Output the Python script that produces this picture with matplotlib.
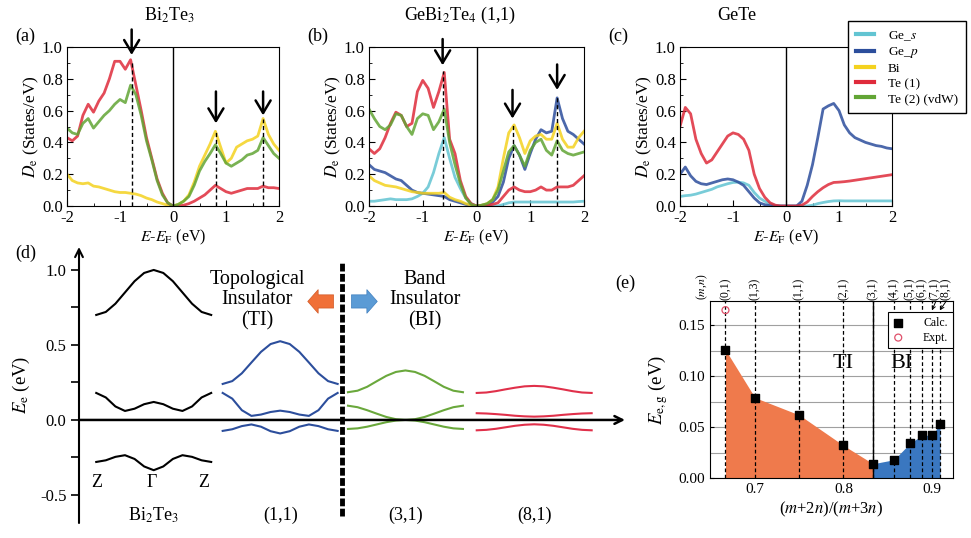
import numpy as np
import matplotlib
matplotlib.use('Agg')
import matplotlib.pyplot as plt
from matplotlib.lines import Line2D

plt.rcParams['font.family'] = 'serif'
plt.rcParams['font.serif'] = ['Liberation Serif', 'DejaVu Serif']
plt.rcParams['mathtext.fontset'] = 'stix'
plt.rcParams['axes.unicode_minus'] = False

# ---------------- data ----------------
# energy grid for the DOS panels (eV, E-E_F)
energy = np.round(np.linspace(-2, 2, 41), 2)

# (a) Bi2Te3
a_bi = [0.20, 0.16, 0.145, 0.14, 0.145, 0.125, 0.12, 0.11, 0.10, 0.09,
        0.085, 0.085, 0.08, 0.075, 0.065, 0.05, 0.04, 0.025, 0.015, 0.005,
        0.0,
        0.01, 0.03, 0.07, 0.15, 0.25, 0.32, 0.39, 0.47, 0.37, 0.27,
        0.30, 0.37, 0.39, 0.41, 0.42, 0.44, 0.55, 0.45, 0.39, 0.35]
a_te1 = [0.43, 0.41, 0.44, 0.57, 0.64, 0.59, 0.66, 0.71, 0.80, 0.91,
         0.91, 0.86, 0.92, 0.76, 0.60, 0.43, 0.30, 0.17, 0.08, 0.02,
         0.0,
         0.0, 0.005, 0.015, 0.03, 0.05, 0.07, 0.10, 0.13, 0.11, 0.09,
         0.08, 0.09, 0.10, 0.11, 0.11, 0.11, 0.125, 0.115, 0.115, 0.11]
a_te2 = [0.49, 0.46, 0.45, 0.52, 0.55, 0.49, 0.53, 0.57, 0.60, 0.64,
         0.67, 0.65, 0.76, 0.70, 0.57, 0.41, 0.29, 0.16, 0.07, 0.02,
         0.0,
         0.01, 0.03, 0.06, 0.13, 0.22, 0.28, 0.33, 0.385, 0.33, 0.27,
         0.25, 0.27, 0.29, 0.32, 0.33, 0.35, 0.43, 0.38, 0.33, 0.30]

# (b) GeBi2Te4 (1,1)
b_ges = [0.03, 0.03, 0.035, 0.04, 0.045, 0.04, 0.04, 0.04, 0.045, 0.06,
         0.08, 0.12, 0.21, 0.33, 0.43, 0.30, 0.18, 0.11, 0.05, 0.015,
         0.0,
         0.0, 0.0, 0.0, 0.0, 0.01, 0.02, 0.025, 0.025, 0.025, 0.025,
         0.025, 0.025, 0.025, 0.025, 0.025, 0.025, 0.025, 0.025, 0.028, 0.03]
b_gep = [0.26, 0.23, 0.22, 0.21, 0.19, 0.17, 0.16, 0.13, 0.10, 0.085,
         0.08, 0.075, 0.07, 0.065, 0.06, 0.04, 0.03, 0.02, 0.01, 0.005,
         0.0,
         0.005, 0.01, 0.025, 0.06, 0.15, 0.30, 0.38, 0.32, 0.23, 0.33,
         0.42, 0.48, 0.46, 0.47, 0.68, 0.55, 0.47, 0.45, 0.42, 0.39]
b_bi = [0.19, 0.16, 0.145, 0.13, 0.125, 0.12, 0.11, 0.10, 0.09, 0.085,
        0.08, 0.08, 0.08, 0.08, 0.085, 0.055, 0.04, 0.03, 0.015, 0.005,
        0.0,
        0.005, 0.015, 0.04, 0.12, 0.30, 0.46, 0.51, 0.43, 0.33, 0.41,
        0.44, 0.45, 0.42, 0.42, 0.52, 0.42, 0.37, 0.37, 0.43, 0.47]
b_te1 = [0.36, 0.33, 0.36, 0.43, 0.52, 0.59, 0.57, 0.50, 0.52, 0.72,
         0.79, 0.74, 0.62, 0.72, 0.84, 0.42, 0.33, 0.16, 0.06, 0.015,
         0.0,
         0.0, 0.005, 0.01, 0.02, 0.06, 0.10, 0.12, 0.10, 0.09, 0.09,
         0.10, 0.12, 0.10, 0.10, 0.12, 0.12, 0.12, 0.13, 0.16, 0.19]
b_te2 = [0.61, 0.55, 0.50, 0.48, 0.51, 0.58, 0.57, 0.50, 0.45, 0.55,
         0.58, 0.57, 0.48, 0.53, 0.61, 0.40, 0.26, 0.14, 0.05, 0.01,
         0.0,
         0.005, 0.015, 0.04, 0.10, 0.22, 0.34, 0.38, 0.32, 0.25, 0.35,
         0.40, 0.42, 0.35, 0.32, 0.41, 0.35, 0.33, 0.32, 0.33, 0.34]

# (c) GeTe
c_ges = [0.06, 0.065, 0.068, 0.075, 0.085, 0.095, 0.105, 0.12, 0.13, 0.14,
         0.148, 0.15, 0.145, 0.13, 0.085, 0.05, 0.03, 0.012, 0.003, 0.0,
         0.0,
         0.0, 0.0, 0.0, 0.0, 0.005, 0.015, 0.022, 0.028, 0.032, 0.033,
         0.032, 0.032, 0.032, 0.032, 0.032, 0.032, 0.032, 0.032, 0.032, 0.032]
c_gep = [0.20, 0.245, 0.19, 0.155, 0.14, 0.135, 0.145, 0.155, 0.165, 0.17,
         0.165, 0.15, 0.13, 0.09, 0.05, 0.02, 0.008, 0.002, 0.0, 0.0,
         0.0,
         0.0, 0.0, 0.03, 0.13, 0.26, 0.43, 0.61, 0.63, 0.645, 0.60,
         0.51, 0.46, 0.43, 0.415, 0.40, 0.39, 0.38, 0.375, 0.365, 0.36]
c_te1 = [0.50, 0.62, 0.58, 0.42, 0.33, 0.27, 0.29, 0.34, 0.39, 0.44,
         0.46, 0.45, 0.42, 0.35, 0.20, 0.11, 0.055, 0.02, 0.005, 0.0,
         0.0,
         0.0, 0.0, 0.005, 0.025, 0.06, 0.09, 0.115, 0.135, 0.148, 0.15,
         0.153, 0.157, 0.162, 0.167, 0.172, 0.177, 0.182, 0.187, 0.192, 0.197]

# peak markers: (x, dashed-line top, arrow tail, arrow head)
a_peaks = [(-0.78, 0.91, 1.11, 0.95), (0.81, 0.47, 0.72, 0.52), (1.70, 0.55, 0.72, 0.57)]
b_peaks = [(-0.63, 0.85, 1.05, 0.885), (0.67, 0.51, 0.73, 0.55), (1.50, 0.69, 0.89, 0.73)]

# (d) schematic bands, half path Z -> Gamma (mirrored for Gamma -> Z)
bands_bi2te3 = [[0.70, 0.72, 0.775, 0.85, 0.925, 0.98, 1.00],
                [0.18, 0.15, 0.09, 0.06, 0.075, 0.105, 0.12],
                [-0.28, -0.269, -0.246, -0.235, -0.26, -0.31, -0.335]]
bands_11 = [[0.24, 0.259, 0.311, 0.383, 0.454, 0.506, 0.525],
            [0.18, 0.142, 0.065, 0.027, 0.036, 0.053, 0.062],
            [-0.073, -0.062, -0.041, -0.03, -0.045, -0.075, -0.09]]
bands_31 = [[0.185, 0.195, 0.221, 0.258, 0.294, 0.32, 0.33],
            [0.095, 0.085, 0.065, 0.042, 0.02, 0.005, 0.0],
            [-0.06, -0.056, -0.045, -0.03, -0.015, -0.004, 0.0]]
bands_81 = [[0.18, 0.183, 0.192, 0.204, 0.215, 0.224, 0.227],
            [0.045, 0.043, 0.039, 0.034, 0.028, 0.024, 0.022],
            [-0.069, -0.066, -0.059, -0.049, -0.039, -0.032, -0.029]]
band_names = ['Bi$_2$Te$_3$', '(1,1)', '(3,1)', '(8,1)']

# (e) gap vs composition
m_vals = [0, 1, 1, 2, 3, 4, 5, 6, 7, 8]
n_vals = [1, 3, 1, 1, 1, 1, 1, 1, 1, 1]
gap_calc = [0.126, 0.079, 0.062, 0.032, 0.014, 0.018, 0.034, 0.042, 0.042, 0.053]
gap_expt = [0.165]

# ---------------- styling ----------------
W, H = 971, 538
C_GES, C_GEP, C_BI, C_TE1, C_TE2 = '#62c4d2', '#2c4e9c', '#f4d21f', '#df2b3b', '#62a535'


def box(l, t, r, b):
    return [l / W, 1 - b / H, (r - l) / W, (b - t) / H]


def ftext(x, y, s, **kw):
    fig.text(x / W, 1 - y / H, s, ha='center', va='center', **kw)


fig = plt.figure(figsize=(W / 100, H / 100), dpi=100)


def dos_panel(rect, curves, peaks):
    ax = fig.add_axes(rect)
    for vals, col in curves:
        if vals is not None:
            ax.plot(energy, vals, color=col, lw=2, alpha=0.85, solid_joinstyle='round')
    ax.axvline(0, color='k', lw=1)
    for x, top, tail, head in peaks:
        ax.plot([x, x], [0, top], color='k', lw=1, dashes=(3, 2))
        ax.annotate('', xy=(x, head), xytext=(x, tail),
                    arrowprops=dict(arrowstyle='->,head_length=0.5,head_width=0.3', lw=1.8,
                                    color='k', shrinkA=0, shrinkB=0, mutation_scale=18),
                    annotation_clip=False)
    ax.set_xlim(-2, 2)
    ax.set_ylim(0, 1)
    ax.set_xticks([-2, -1, 0, 1, 2])
    ax.set_xticks([-1.5, -0.5, 0.5, 1.5], minor=True)
    ax.set_yticks([0, 0.2, 0.4, 0.6, 0.8, 1.0])
    ax.set_yticklabels(['0.0', '0.2', '0.4', '0.6', '0.8', '1.0'])
    ax.set_yticks([0.1, 0.3, 0.5, 0.7, 0.9], minor=True)
    ax.tick_params(which='both', direction='in', labelsize=12, pad=3)
    ax.tick_params(which='major', length=4)
    ax.tick_params(which='minor', length=2.5)
    ax.set_ylabel('$D_\\mathrm{e}$ (States/eV)', fontsize=12.5, labelpad=1)
    ax.set_xlabel('$E$-$E_\\mathrm{F}$ (eV)', fontsize=11.5, labelpad=1)
    return ax


dos_panel(box(67, 47, 279, 206),
          [(None, C_GES), (None, C_GEP), (a_bi, C_BI), (a_te1, C_TE1), (a_te2, C_TE2)], a_peaks)
dos_panel(box(369, 47, 584, 206),
          [(b_ges, C_GES), (b_gep, C_GEP), (b_bi, C_BI), (b_te1, C_TE1), (b_te2, C_TE2)], b_peaks)
dos_panel(box(680, 47, 892, 206),
          [(c_ges, C_GES), (c_gep, C_GEP), (None, C_BI), (c_te1, C_TE1), (None, C_TE2)], [])

ftext(170, 15, 'Bi$_2$Te$_3$', fontsize=13)
ftext(460, 15, 'GeBi$_2$Te$_4$ (1,1)', fontsize=13)
ftext(737, 15, 'GeTe', fontsize=13)
ftext(25, 36, '(a)', fontsize=13)
ftext(318, 36, '(b)', fontsize=13)
ftext(618, 36, '(c)', fontsize=13)

handles = [Line2D([], [], color=c, lw=3) for c in [C_GES, C_GEP, C_BI, C_TE1, C_TE2]]
labels = ['Ge_$s$', 'Ge_$p$', 'Bi', 'Te (1)', 'Te (2) (vdW)']
leg = fig.legend(handles, labels, loc='upper left', bbox_to_anchor=(848 / W, 1 - 21 / H),
                 fontsize=9.5, frameon=True, fancybox=False, framealpha=1,
                 edgecolor='k', handlelength=1.4, handletextpad=1.0,
                 labelspacing=0.2, borderpad=0.6, borderaxespad=0)
leg.get_frame().set_linewidth(1)

# ---------------- (d) ----------------
axd = fig.add_axes(box(79, 247, 625, 523))
axd.set_xlim(0, 4.75)
axd.set_ylim(-0.687, 1.153)
for s in axd.spines.values():
    s.set_visible(False)
axd.set_xticks([])
axd.set_yticks([-0.5, 0.0, 0.5, 1.0])
axd.set_yticklabels(['-0.5', '0.0', '0.5', '1.0'])
axd.set_yticks([-0.25, 0.25, 0.75], minor=True)
axd.tick_params(axis='y', which='both', direction='out', length=6, width=1.2, labelsize=12, pad=3)
axd.annotate('', xy=(0, 1.153), xytext=(0, -0.687),
             arrowprops=dict(arrowstyle='->', lw=1.5, color='k', shrinkA=0, shrinkB=0,
                             mutation_scale=14), annotation_clip=False)
axd.annotate('', xy=(4.75, 0), xytext=(0, 0),
             arrowprops=dict(arrowstyle='->', lw=1.8, color='k', shrinkA=0, shrinkB=0,
                             mutation_scale=14), annotation_clip=False)

k = np.linspace(0, 1, 13)
group_start = [0.15, 1.25, 2.34, 3.46]
group_col = ['k', '#2c4e9c', '#6aa83c', '#e0304a']
for start, bands, col in zip(group_start, [bands_bi2te3, bands_11, bands_31, bands_81], group_col):
    for half in bands:
        full = half + half[-2::-1]
        axd.plot(start + k, full, color=col, lw=1.5)

for start, name in zip(group_start, band_names):
    axd.text(start + 0.5, -0.633, name, ha='center', va='center', fontsize=13)
axd.text(0.157, -0.42, 'Z', ha='center', va='center', fontsize=13)
axd.text(0.635, -0.42, '\u0393', ha='center', va='center', fontsize=13)
axd.text(1.087, -0.42, 'Z', ha='center', va='center', fontsize=13)

axd.plot([2.287, 2.287], [-0.64, 1.053], color='k', lw=3.5, dashes=(1.6, 0.5))
axd.text(1.548, 0.80, 'Topological\nInsulator\n(TI)', ha='center', va='center',
         fontsize=14.5, linespacing=1.1)
axd.text(3.009, 0.80, 'Band\nInsulator\n(BI)', ha='center', va='center',
         fontsize=14.5, linespacing=1.1)
axd.annotate('', xy=(1.99, 0.79), xytext=(2.215, 0.79),
             arrowprops=dict(arrowstyle='simple,head_width=1.7,head_length=0.75,tail_width=0.95',
                             fc='#f07038', ec='#d05a28', lw=0.5, shrinkA=0, shrinkB=0,
                             mutation_scale=10))
axd.annotate('', xy=(2.595, 0.79), xytext=(2.37, 0.79),
             arrowprops=dict(arrowstyle='simple,head_width=1.7,head_length=0.75,tail_width=0.95',
                             fc='#5b9bd5', ec='#3f7fbf', lw=0.5, shrinkA=0, shrinkB=0,
                             mutation_scale=10))
axd.set_ylabel('$E_\\mathrm{e}$ (eV)', fontsize=13.5, labelpad=6)
ftext(26, 253, '(d)', fontsize=13)

# ---------------- (e) ----------------
ratio = [(m + 2 * n) / (m + 3 * n) for m, n in zip(m_vals, n_vals)]
mn_labels = ['(%d,%d)' % (m, n) for m, n in zip(m_vals, n_vals)]
split = 4  # (3,1): TI -> BI boundary
ytop = 0.174

axe = fig.add_axes(box(710, 301, 953, 478))
axe.set_xlim(0.6492, 0.9237)
axe.set_ylim(0, ytop)
axe.set_axisbelow(True)
axe.fill_between(ratio[:split + 1], gap_calc[:split + 1], 0, color='#ef7a4c', lw=0, zorder=1)
axe.fill_between(ratio[split:], gap_calc[split:], 0, color='#3a77c0', lw=0, zorder=1)
for x in ratio:
    axe.plot([x, x], [0, ytop], color='k', lw=0.9, dashes=(3, 2), zorder=2)
axe.plot([ratio[split]] * 2, [0, ytop], color='k', lw=1, zorder=3)
axe.scatter(ratio, gap_calc, marker='s', s=28, color='k', zorder=5, label='Calc.')
axe.scatter(ratio[:1], gap_expt, marker='o', s=25, facecolors='none',
            edgecolors='#e0506a', lw=0.9, zorder=5, label='Expt.')
axe.set_yticks([0, 0.05, 0.10, 0.15])
axe.set_yticklabels(['0.00', '0.05', '0.10', '0.15'])
axe.set_yticks([0.025, 0.075, 0.125], minor=True)
axe.grid(axis='y', which='both', color='#a0a0a0', lw=0.8)
axe.set_xticks([0.7, 0.8, 0.9])
axe.set_xticklabels(['0.7', '0.8', '0.9'])
axe.tick_params(which='both', direction='in', labelsize=11, length=3)
axe.tick_params(which='minor', length=0)
axe.set_xlabel('($m$+2$n$)/($m$+3$n$)', fontsize=12, labelpad=3)
axe.set_ylabel('$E_\\mathrm{e,g}$ (eV)', fontsize=13.5, labelpad=6)
axe.text(0.80, 0.113, 'TI', ha='center', va='center', fontsize=16)
axe.text(0.866, 0.113, 'BI', ha='center', va='center', fontsize=16)

lab_shift = [0, 0, 0, 0, 0, 0, 0, 0, 0.0035, 0.006]
for x, lab, dx in zip(ratio, mn_labels, lab_shift):
    axe.text(x + dx, ytop + 0.001, lab, rotation=90, ha='center', va='bottom', fontsize=8.5)
    if dx > 0:
        axe.annotate('', xy=(x, ytop - 0.009), xytext=(x + dx + 0.001, ytop),
                     arrowprops=dict(arrowstyle='->', lw=0.7, color='k', shrinkA=0, shrinkB=0,
                                     mutation_scale=6), annotation_clip=False)
axe.text(0.6406, ytop + 0.001, '($m$,$n$)', rotation=90, ha='center', va='bottom', fontsize=8.5)

leg_e = axe.legend(loc='upper right', bbox_to_anchor=(1.0, 1 - 11 / 177), fontsize=8.5,
                   frameon=True, fancybox=False, framealpha=1, edgecolor='k',
                   borderaxespad=0, handlelength=1.0, handletextpad=1.6,
                   labelspacing=0.25, borderpad=0.4)
leg_e.get_frame().set_linewidth(0.8)
ftext(625, 283, '(e)', fontsize=13)

fig.savefig('out.png', dpi=100)
